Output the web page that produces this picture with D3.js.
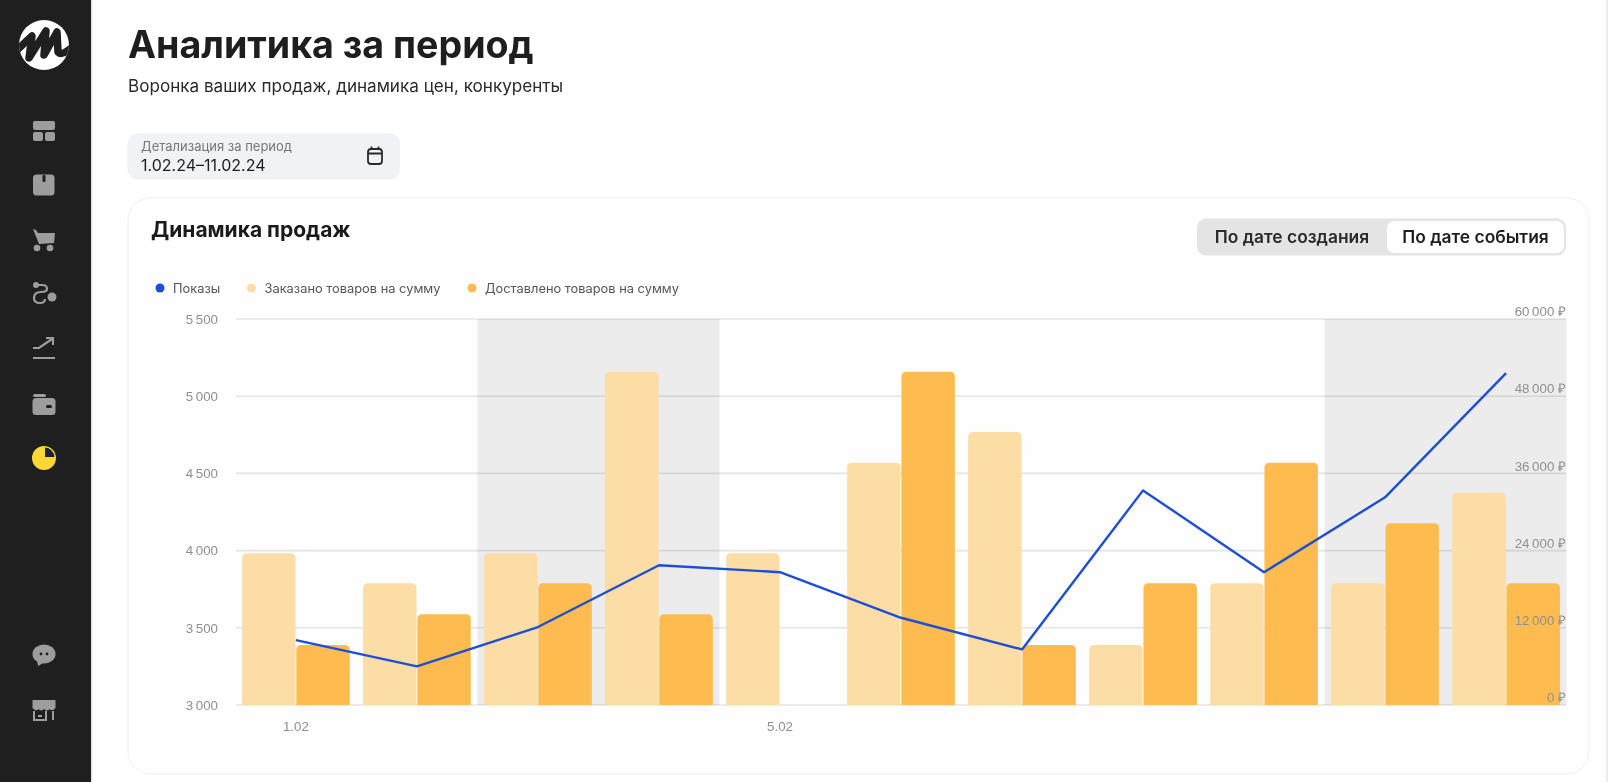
<!DOCTYPE html>
<html lang="ru">
<head>
<meta charset="utf-8">
<title>Аналитика за период</title>
<script src="https://cdn.jsdelivr.net/npm/d3@7"></script>
<style>
  html, body { margin: 0; padding: 0; background: #fff; overflow: hidden; }
  svg { display: block; font-family: Inter, "Noto Sans", sans-serif; filter: blur(0.4px); }
  .tick-label { font-size: 13.3px; fill: #8f8f8f; }
</style>
</head>
<body>
<svg id="chart" width="1608" height="782"></svg>
<script>
// Chart data
var days = ['1.02', '2.02', '3.02', '4.02', '5.02', '6.02', '7.02', '8.02', '9.02', '10.02', '11.02'];
var weekends = [['3.02', '4.02'], ['10.02', '11.02']];
var ordered = [23570, 18910, 23570, 51800, 23570, 37650, 42450, 9320, 18910, 18910, 32995];
var delivered = [9320, 14100, 18910, 14100, null, 51800, 9320, 18910, 37650, 28240, 18910];
var views = [3420, 3250, 3505, 3905, 3860, 3565, 3360, 4390, 3860, 4345, 5150];
var leftTicks = [3000, 3500, 4000, 4500, 5000, 5500];
var rightTicks = [0, 12000, 24000, 36000, 48000, 60000];
var xTicks = ['1.02', '5.02'];
var legendNames = ['Показы', 'Заказано товаров на сумму', 'Доставлено товаров на сумму'];

var BLUE = '#1c4fd6', LIGHT = '#fddda6', DARK = '#febc50';

var svg = d3.select('#chart');
var locale = d3.formatLocale({decimal: ',', thousands: '\u2009', grouping: [3], currency: ['', '\u00a0₽']});
var numFmt = locale.format(',d');

function drawText(parent, x, y, str, size, weight, color, anchor) {
  return parent.append('text')
    .attr('x', x).attr('y', y)
    .attr('font-size', size).attr('font-weight', weight)
    .attr('fill', color)
    .attr('text-anchor', anchor || 'start')
    .text(str);
}

// Sidebar
function drawSidebar() {
  var side = svg.append('g');
  side.append('rect').attr('width', 91).attr('height', 782).attr('fill', '#1f1f1f');
  side.append('rect').attr('x', 91).attr('width', 1.5).attr('height', 782).attr('fill', '#e4e4e4');

  var logo = side.append('g').attr('transform', 'translate(44,45)');
  logo.append('clipPath').attr('id', 'logoClip').append('circle').attr('r', 25);
  logo.append('circle').attr('r', 25).attr('fill', '#fff');
  logo.append('path')
    .attr('clip-path', 'url(#logoClip)')
    .attr('d', 'M-27,5 L-12,-9 L-15,13 L2,-14 L0,10 L13,-13 L14,7 Q18,11 27,3')
    .attr('fill', 'none').attr('stroke', '#1f1f1f').attr('stroke-width', 7.5)
    .attr('stroke-linejoin', 'round');

  var gray = '#9d9d9d', bg = '#1f1f1f';
  function icon(y) { return side.append('g').attr('transform', 'translate(44,' + y + ')').attr('fill', gray); }
  function box(g, x, y, w, h, r) {
    return g.append('rect').attr('x', x).attr('y', y).attr('width', w).attr('height', h).attr('rx', r);
  }

  var i = icon(131);
  box(i, -11, -10, 22, 9, 2); box(i, -11, 1, 10, 9, 2); box(i, 1, 1, 10, 9, 2);

  i = icon(185);
  box(i, -11, -10.5, 21.5, 21, 3.5);
  box(i, -1.5, -10, 3, 7, 1).attr('fill', bg);

  i = icon(240);
  i.append('path').attr('d', 'M-11,-11 L-8,-10 L-6,-7 L11,-7 L10,3 L-5,4 Z');
  i.append('circle').attr('cx', -7).attr('cy', 8).attr('r', 3.3);
  i.append('circle').attr('cx', 6).attr('cy', 8).attr('r', 3.3);

  i = icon(294);
  i.append('circle').attr('cx', -8).attr('cy', -9).attr('r', 3);
  i.append('circle').attr('cx', 8).attr('cy', 3).attr('r', 4.5);
  i.append('path').attr('d', 'M-8,-9 H-2 Q3,-9 3,-5 Q3,-2 -3,-2 Q-10,-2 -10,4 Q-10,9 -4,9 Q1,9 1,5')
    .attr('fill', 'none').attr('stroke', gray).attr('stroke-width', 2.2);

  i = icon(349);
  i.append('path').attr('d', 'M-11,-1 H-5 L8,-10 M2,-11 H9 V-4 M-11,9 H11')
    .attr('fill', 'none').attr('stroke', gray).attr('stroke-width', 2.2);

  i = icon(405);
  box(i, -11.5, -7, 23, 17, 3.5);
  box(i, -11, -11, 13, 3, 1.5);
  box(i, 2, 0, 6, 3, 1.5).attr('fill', bg);

  var pie = side.append('g').attr('transform', 'translate(44,458)');
  pie.append('circle').attr('r', 12).attr('fill', '#fdd835');
  pie.append('path').attr('d', 'M1,-1 V-10.5 A10,10 0 0 1 10.5,-1 Z').attr('fill', '#1d2438');

  i = icon(654);
  i.append('ellipse').attr('rx', 11.5).attr('ry', 9.5);
  i.append('path').attr('d', 'M-7,6 L-6,12 L1,8 Z');
  i.append('circle').attr('cx', -3).attr('r', 1.4).attr('fill', bg);
  i.append('circle').attr('cx', 3).attr('r', 1.4).attr('fill', bg);

  i = icon(710);
  i.append('path').attr('d', 'M-11.5,-10 H11.5 V-2 Q8,2 5.5,-1 Q3,2 0,-1 Q-3,2 -5.5,-1 Q-8,2 -11.5,-2 Z');
  i.append('path').attr('d', 'M-10,1 V10 H2 V1 M9,1 V10 M-6,6 H-2')
    .attr('fill', 'none').attr('stroke', gray).attr('stroke-width', 2);
}

// Page heading and date picker
function drawHeader() {
  drawText(svg, 128, 58, 'Аналитика за период', 37.6, 700, '#1e1e1e');
  drawText(svg, 128, 92, 'Воронка ваших продаж, динамика цен, конкуренты', 17.1, 400, '#2a2a2a');

  svg.append('rect').attr('x', 127.5).attr('y', 133.5).attr('width', 272.5).attr('height', 46)
    .attr('rx', 10).attr('fill', '#f1f2f4');
  drawText(svg, 141, 151, 'Детализация за период', 13, 400, '#777');
  drawText(svg, 141, 171, '1.02.24–11.02.24', 16, 400, '#1e1e1e');

  var cal = svg.append('g').attr('transform', 'translate(375,156)')
    .attr('fill', 'none').attr('stroke', '#2a2a2a').attr('stroke-width', 1.8);
  cal.append('rect').attr('x', -7).attr('y', -7).attr('width', 14).attr('height', 15).attr('rx', 3);
  cal.append('path').attr('d', 'M-7,-2.5 H7 M-3.5,-9.5 V-6.5 M3.5,-9.5 V-6.5');
}

// Card, title, toggle
function drawCard() {
  svg.append('rect').attr('x', 1606).attr('width', 2).attr('height', 782).attr('fill', '#ececec');
  svg.append('rect').attr('x', 128).attr('y', 198).attr('width', 1461).attr('height', 576)
    .attr('rx', 22).attr('fill', '#fefefe').attr('stroke', '#efefef');
  drawText(svg, 151, 237, 'Динамика продаж', 21, 700, '#1a1a1a');

  svg.append('rect').attr('x', 1197).attr('y', 218.5).attr('width', 369).attr('height', 37)
    .attr('rx', 9).attr('fill', '#e4e4e4');
  svg.append('rect').attr('x', 1387).attr('y', 221).attr('width', 177).attr('height', 32)
    .attr('rx', 7).attr('fill', '#fff');
  drawText(svg, 1292, 243, 'По дате создания', 17.4, 600, '#2a2a2a', 'middle');
  drawText(svg, 1475.5, 243, 'По дате события', 17.4, 600, '#1e1e1e', 'middle');
}

function drawLegend() {
  var colors = [BLUE, LIGHT, DARK];
  var dotX = [160, 251.5, 472];
  var legend = svg.append('g').selectAll('g').data(legendNames).join('g')
    .attr('transform', function(d, i) { return 'translate(' + dotX[i] + ',288)'; });
  legend.append('circle').attr('r', 4.5).attr('fill', function(d, i) { return colors[i]; });
  legend.append('text').attr('x', 13).attr('y', 4.5)
    .attr('font-size', 12.85).attr('fill', '#555')
    .text(function(d) { return d; });
}

function drawPlot() {
  var left = 236, right = 1566, top = 319, bottom = 705;

  var x = d3.scaleBand().domain(days).range([left, right]).paddingInner(0.11).paddingOuter(0.05);
  var sub = d3.scaleBand().domain(['ordered', 'delivered']).range([0, x.bandwidth()]).paddingInner(0.015);
  var yViews = d3.scaleLinear().domain([3000, 5500]).range([bottom, top]);
  var ySales = d3.scaleLinear().domain([0, 60000]).range([bottom, top]);
  var step = x.step();

  // Weekend bands
  svg.append('g').selectAll('rect').data(weekends).join('rect')
    .attr('x', function(d) { return x(d[0]) - step * 0.055; })
    .attr('width', function(d) { return x(d[1]) - x(d[0]) + step; })
    .attr('y', top).attr('height', bottom - top)
    .attr('fill', '#ececec');

  // Grid
  svg.append('g').selectAll('line').data(leftTicks).join('line')
    .attr('x1', left).attr('x2', right)
    .attr('y1', yViews).attr('y2', yViews)
    .attr('stroke', '#000')
    .attr('stroke-opacity', 0.1)
    .attr('stroke-width', 1.6);

  // Rounded-top bars
  function barPath(val, key, d) {
    var x0 = x(d) + sub(key), w = sub.bandwidth(), y0 = ySales(val), r = 5;
    return 'M' + x0 + ',' + bottom + 'V' + (y0 + r) + 'Q' + x0 + ',' + y0 + ' ' + (x0 + r) + ',' + y0 +
      'H' + (x0 + w - r) + 'Q' + (x0 + w) + ',' + y0 + ' ' + (x0 + w) + ',' + (y0 + r) + 'V' + bottom + 'Z';
  }
  svg.append('g').selectAll('path').data(ordered).join('path')
    .attr('fill', LIGHT)
    .attr('d', function(v, i) { return barPath(v, 'ordered', days[i]); });
  svg.append('g').selectAll('path').data(delivered).join('path')
    .attr('fill', DARK)
    .attr('d', function(v, i) { return v === null ? null : barPath(v, 'delivered', days[i]); });

  // Line
  var line = d3.line()
    .x(function(d, i) { return x(days[i]) + x.bandwidth() / 2; })
    .y(function(d) { return yViews(d); });
  svg.append('path').datum(views)
    .attr('d', line).attr('fill', 'none')
    .attr('stroke', BLUE).attr('stroke-width', 2.4).attr('stroke-linejoin', 'round');

  // Axes
  var axisLeft = d3.axisLeft(yViews).tickValues(leftTicks).tickSize(0).tickPadding(0).tickFormat(numFmt);
  var gl = svg.append('g').attr('transform', 'translate(218,0)').call(axisLeft);
  gl.select('.domain').remove();
  gl.selectAll('text').attr('class', 'tick-label');

  var axisRight = d3.axisLeft(ySales).tickValues(rightTicks).tickSize(0).tickPadding(0)
    .tickFormat(function(d) { return numFmt(d) + '\u00a0₽'; });
  var gr = svg.append('g').attr('transform', 'translate(1566,-7.5)').call(axisRight);
  gr.select('.domain').remove();
  gr.selectAll('text').attr('class', 'tick-label');

  var axisBottom = d3.axisBottom(x).tickValues(xTicks).tickSize(0).tickPadding(0);
  var gb = svg.append('g').attr('transform', 'translate(0,722)').call(axisBottom);
  gb.select('.domain').remove();
  gb.selectAll('text').attr('class', 'tick-label');
}

drawSidebar();
drawHeader();
drawCard();
drawLegend();
drawPlot();
</script>
</body>
</html>
